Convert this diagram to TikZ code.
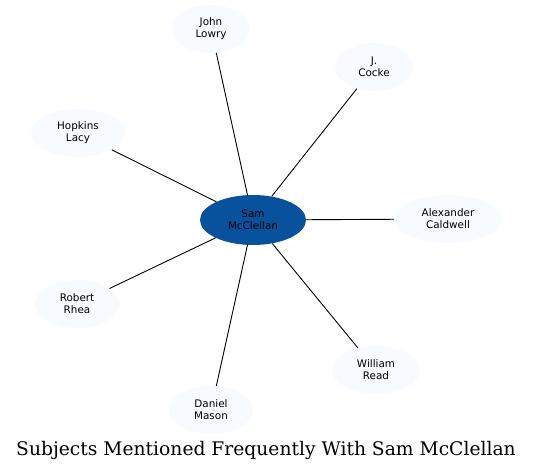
\documentclass[tikz,border=0pt]{standalone}
\usepackage{fontspec}
\newfontfamily\labelfont{DejaVu Sans}
\newfontfamily\titlefont{DejaVu Serif}
\usetikzlibrary{shapes.geometric}
\definecolor{hubblue}{HTML}{08519C}
\definecolor{leafblue}{HTML}{F7FBFF}

\begin{document}
\begin{tikzpicture}[x=1pt, y=-1pt,
    leaf/.style={ellipse, fill=leafblue, inner sep=0pt, minimum height=48pt,
                 align=center, font=\labelfont\fontsize{10.4}{12}\selectfont},
    hub/.style={leaf, fill=hubblue, minimum width=106pt, minimum height=50pt},
    link/.style={draw=black, line width=0.9pt}]
  \useasboundingbox (0,0) rectangle (533,471);

  \node[hub] (sam) at (253,220) {Sam\\McClellan};
  \node[leaf, minimum width=78pt] (lowry) at (211,29) {John\\Lowry};
  \node[leaf, minimum width=78pt] (cocke) at (374,67) {J.\\Cocke};
  \node[leaf, minimum width=94pt] (lacy) at (78,133) {Hopkins\\Lacy};
  \node[leaf, minimum width=108pt] (caldwell) at (448,219) {Alexander\\Caldwell};
  \node[leaf, minimum width=84pt] (rhea) at (77,304) {Robert\\Rhea};
  \node[leaf, minimum width=88pt] (read) at (376,370) {William\\Read};
  \node[leaf, minimum width=84pt] (mason) at (211,410) {Daniel\\Mason};

  \foreach \n in {lowry, cocke, lacy, caldwell, rhea, read, mason}
    \draw[link] (sam) -- (\n);

  \node[font=\titlefont\fontsize{18.7}{22}\selectfont] (title) at (266,450)
    {Subjects Mentioned Frequently With Sam McClellan};
\end{tikzpicture}
\end{document}
